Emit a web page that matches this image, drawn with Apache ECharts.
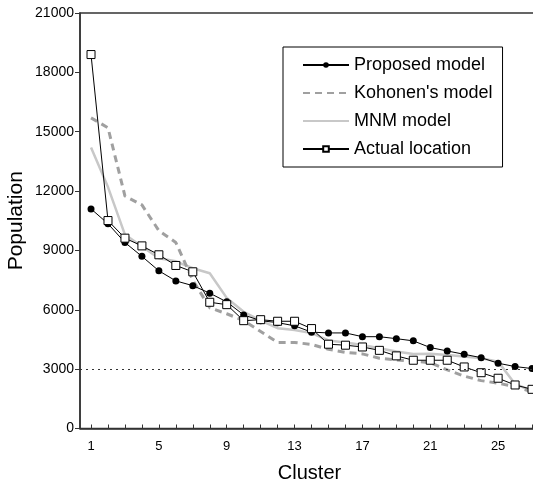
<!DOCTYPE html>
<html>
<head>
<meta charset="utf-8">
<script src="https://cdn.jsdelivr.net/npm/echarts@6/dist/echarts.min.js"></script>
<style>
  html, body { margin: 0; padding: 0; background: #fff; }
  #main { width: 533px; height: 481px; }
</style>
</head>
<body>
<div id="main"></div>
<script>
// clusters 1..27
var clusters = [1, 2, 3, 4, 5, 6, 7, 8, 9, 10, 11, 12, 13, 14, 15, 16, 17, 18, 19, 20, 21, 22, 23, 24, 25, 26, 27];
var xTickLabels = [1, 5, 9, 13, 17, 21, 25];
var proposed = [11100, 10350, 9400, 8700, 7970, 7460, 7220, 6840, 6400, 5740, 5450, 5350, 5190, 4870, 4830, 4830, 4640, 4640, 4540, 4430, 4090, 3920, 3750, 3580, 3300, 3130, 3030];
var kohonen = [15700, 15200, 11750, 11300, 10000, 9400, 7500, 6100, 5800, 5450, 4900, 4350, 4350, 4250, 4000, 3850, 3770, 3550, 3470, 3400, 3330, 2960, 2650, 2420, 2290, 2110, 1860];
var mnm = [14200, 12200, 9800, 9200, 8600, 8450, 8100, 7850, 6600, 5900, 5450, 5070, 4980, 4820, 4450, 4350, 4220, 4060, 3890, 3770, 3780, 3720, 3640, 3550, 3380, 2250, 1900];
var actual = [18900, 10510, 9620, 9230, 8780, 8240, 7920, 6380, 6260, 5450, 5500, 5420, 5420, 5050, 4260, 4210, 4120, 3950, 3670, 3450, 3450, 3450, 3110, 2820, 2540, 2200, 1980];
var threshold = 3000;

function pairs(vals) {
  return clusters.map(function (c, i) { return [c, vals[i]]; });
}

var font = "Liberation Sans, Arial, Helvetica, sans-serif";
var chart = echarts.init(document.getElementById("main"));
chart.setOption({
  animation: false,
  textStyle: { fontFamily: font, color: "#000" },
  grid: {
    left: 80, right: -6, top: 13, bottom: 52.5,
    outerBoundsMode: "none", containLabel: false,
    show: true, borderColor: "#333", borderWidth: 1.5, backgroundColor: "transparent"
  },
  legend: {
    orient: "vertical",
    left: 283, top: 47,
    padding: [9, 10, 9, 19],
    itemWidth: 46, itemHeight: 7, itemGap: 10,
    borderColor: "#000", borderWidth: 1,
    textStyle: { fontSize: 18, color: "#000", fontFamily: font },
    data: [
      { name: "Proposed model" },
      { name: "Kohonen's model", itemStyle: { opacity: 0 } },
      { name: "MNM model", itemStyle: { opacity: 0 } },
      { name: "Actual location" }
    ]
  },
  xAxis: {
    type: "value",
    min: 0.35, max: 27.41,
    name: "Cluster", nameLocation: "middle", nameGap: 35, nameMoveOverlap: false,
    nameTextStyle: { fontSize: 20, color: "#000", fontFamily: font },
    axisLine: { lineStyle: { color: "#333", width: 1.5 } },
    axisTick: { inside: true, length: 4, lineStyle: { color: "#333" }, customValues: clusters },
    axisLabel: { customValues: xTickLabels, fontSize: 13, color: "#000", margin: 11 },
    splitLine: { show: false }
  },
  yAxis: {
    type: "value",
    min: 0, max: 21000, interval: 3000,
    name: "Population", nameLocation: "middle", nameGap: 53, nameMoveOverlap: false,
    nameTextStyle: { fontSize: 21, color: "#000", fontFamily: font },
    axisLine: { show: true, lineStyle: { color: "#333", width: 1.5 } },
    axisTick: { show: true, length: 5, lineStyle: { color: "#333" } },
    axisLabel: { fontSize: 14, color: "#000", margin: 6, formatter: function (v) { return String(v); } },
    splitLine: { show: false }
  },
  series: [
    {
      name: "MNM model", type: "line", data: pairs(mnm),
      symbol: "none",
      lineStyle: { color: "#c8c8c8", width: 2.5 },
      itemStyle: { color: "#c8c8c8" }
    },
    {
      name: "Kohonen's model", type: "line", data: pairs(kohonen),
      symbol: "none",
      lineStyle: { color: "#a0a0a0", width: 3, type: [7, 5] },
      itemStyle: { color: "#a0a0a0" }
    },
    {
      name: "Proposed model", type: "line", data: pairs(proposed),
      symbol: "circle", symbolSize: 7,
      lineStyle: { color: "#000", width: 1 },
      itemStyle: { color: "#000" },
      markLine: {
        silent: true, symbol: "none",
        label: { show: false },
        lineStyle: { color: "#333", width: 1, type: [2, 4] },
        data: [{ yAxis: threshold }]
      }
    },
    {
      name: "Actual location", type: "line", data: pairs(actual),
      symbol: "rect", symbolSize: 8,
      lineStyle: { color: "#000", width: 1 },
      itemStyle: { color: "#fff", borderColor: "#000", borderWidth: 1 }
    }
  ]
});
</script>
</body>
</html>
